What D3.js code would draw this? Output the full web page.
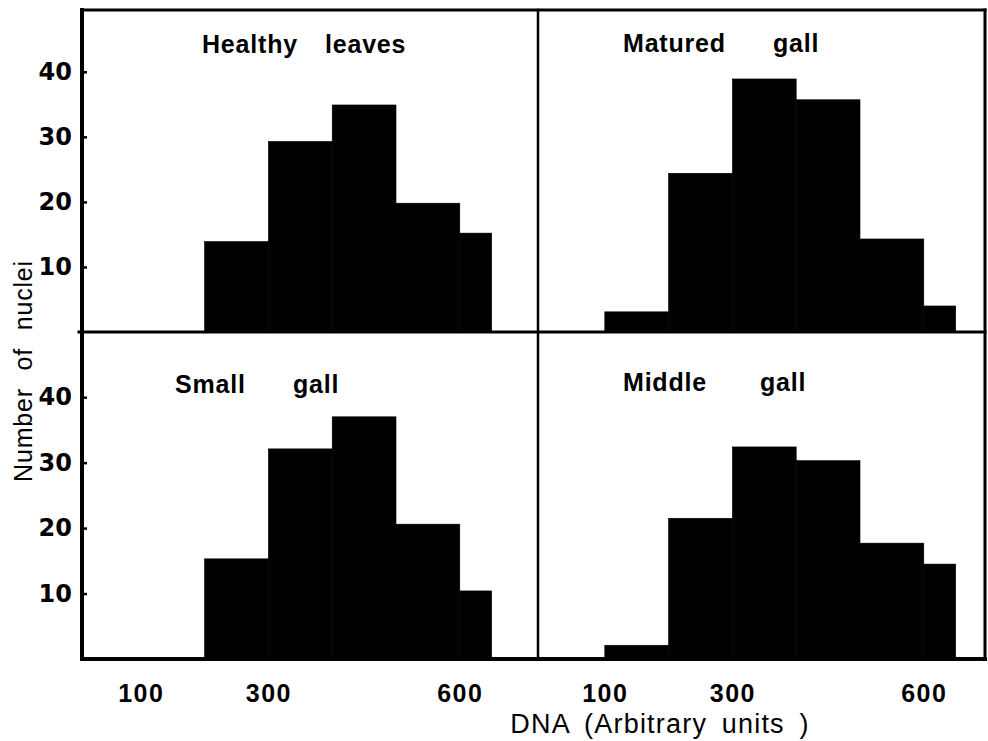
<!DOCTYPE html>
<html>
<head>
<meta charset="utf-8">
<script src="https://cdn.jsdelivr.net/npm/d3@7"></script>
<style>
  html, body { margin: 0; padding: 0; background: #fff; }
  svg { display: block; }
</style>
</head>
<body>
<svg id="chart" width="988" height="741"></svg>
<script>
// ---- data ----
const binEdges = [100, 200, 300, 400, 500, 600, 650];
const healthyLeaves = [0, 13.9, 29.3, 34.9, 19.8, 15.2];
const maturedGall   = [3.1, 24.4, 38.9, 35.7, 14.3, 4.0];
const smallGall     = [0, 15.3, 32.1, 37.0, 20.6, 10.4];
const middleGall    = [2.1, 21.5, 32.4, 30.3, 17.7, 14.5];
const panelTitles = [["Healthy", "leaves"], ["Matured", "gall"], ["Small", "gall"], ["Middle", "gall"]];
const yTickValues = [10, 20, 30, 40];
const xTickValues = [100, 300, 600];
const yLabelWords = ["Number", "of", "nuclei"];
const xLabelText = "DNA (Arbitrary units )";

// ---- layout ----
const svg = d3.select("#chart");
const L = 82, R = 985, T = 10, B = 659, MX = 538, MY = 332;
const ink = "#000";

const xLeft  = d3.scaleLinear().domain([0, 700]).range([77, 77 + 0.638 * 700]);
const xRight = d3.scaleLinear().domain([0, 700]).range([541, 541 + 0.638 * 700]);
const yTop    = d3.scaleLinear().domain([0, 49.5]).range([MY, T]);
const yBottom = d3.scaleLinear().domain([0, 49.5]).range([B, MY + 3]);

const panels = [
  { values: healthyLeaves, x: xLeft,  y: yTop,    title: panelTitles[0], tx: [202, 325], ty: 53 },
  { values: maturedGall,   x: xRight, y: yTop,    title: panelTitles[1], tx: [623, 773], ty: 52 },
  { values: smallGall,     x: xLeft,  y: yBottom, title: panelTitles[2], tx: [175, 293], ty: 393 },
  { values: middleGall,    x: xRight, y: yBottom, title: panelTitles[3], tx: [623, 760], ty: 391 }
];

panels.forEach(p => {
  const bins = p.values.map((v, i) => ({ x0: binEdges[i], x1: binEdges[i + 1], v }));
  const g = svg.append("g");
  g.selectAll("rect")
    .data(bins.filter(d => d.v > 0))
    .join("rect")
    .attr("x", d => p.x(d.x0))
    .attr("width", d => p.x(d.x1) - p.x(d.x0))
    .attr("y", d => p.y(d.v))
    .attr("height", d => p.y(0) - p.y(d.v))
    .attr("fill", ink)
    .attr("stroke", ink)
    .attr("stroke-width", 0.6);

  g.selectAll("text.title")
    .data(p.title)
    .join("text")
    .attr("class", "title")
    .attr("x", (d, i) => p.tx[i])
    .attr("y", p.ty)
    .attr("font-family", "Liberation Sans, Arial, sans-serif")
    .attr("font-size", 25)
    .attr("font-weight", "bold")
    .attr("letter-spacing", 0.8)
    .attr("fill", ink)
    .text(d => d);
});

// ---- y axes (left panels only) ----
[yTop, yBottom].forEach(ys => {
  const ax = svg.append("g")
    .attr("transform", `translate(${L},0)`)
    .call(d3.axisLeft(ys).tickValues(yTickValues).tickSizeInner(-5).tickSizeOuter(0).tickPadding(10));
  ax.select(".domain").remove();
  ax.selectAll(".tick line").attr("stroke", ink).attr("stroke-width", 2.5);
  ax.selectAll(".tick text")
    .attr("font-family", "DejaVu Sans, sans-serif")
    .attr("font-size", 24)
    .attr("font-weight", "bold")
    .attr("fill", ink);
});

// ---- x axes (bottom) ----
[xLeft, xRight].forEach(xs => {
  const ax = svg.append("g")
    .attr("transform", `translate(0,${B})`)
    .call(d3.axisBottom(xs).tickValues(xTickValues).tickSize(0).tickPadding(25));
  ax.select(".domain").remove();
  ax.selectAll(".tick text")
    .attr("font-family", "Liberation Sans, Arial, sans-serif")
    .attr("font-size", 25)
    .attr("font-weight", "bold")
    .attr("letter-spacing", 1.5)
    .attr("fill", ink);
});

// ---- frame ----
const frame = svg.append("g").attr("stroke", ink).attr("stroke-linecap", "square");
frame.append("line").attr("x1", L).attr("y1", T).attr("x2", L).attr("y2", B).attr("stroke-width", 4);
frame.append("line").attr("x1", L).attr("y1", B).attr("x2", R).attr("y2", B).attr("stroke-width", 4);
frame.append("line").attr("x1", L).attr("y1", T).attr("x2", R).attr("y2", T).attr("stroke-width", 3);
frame.append("line").attr("x1", R).attr("y1", T).attr("x2", R).attr("y2", B).attr("stroke-width", 3);
frame.append("line").attr("x1", MX).attr("y1", T).attr("x2", MX).attr("y2", B).attr("stroke-width", 2.5);
frame.append("line").attr("x1", L - 3).attr("y1", MY).attr("x2", R).attr("y2", MY).attr("stroke-width", 3);

// ---- axis titles ----
const yl = svg.append("text")
  .attr("transform", "translate(32,371) rotate(-90)")
  .attr("text-anchor", "middle")
  .attr("font-family", "Liberation Sans, Arial, sans-serif")
  .attr("font-size", 25)
  .attr("letter-spacing", 0.8)
  .attr("fill", ink);
yl.selectAll("tspan")
  .data(yLabelWords)
  .join("tspan")
  .attr("dx", (d, i) => i === 0 ? 0 : 10)
  .text((d, i) => (i === 0 ? "" : " ") + d);

svg.append("text")
  .attr("x", 660)
  .attr("y", 733)
  .attr("text-anchor", "middle")
  .attr("font-family", "Liberation Sans, Arial, sans-serif")
  .attr("font-size", 27)
  .attr("letter-spacing", 1.2)
  .attr("word-spacing", 6)
  .attr("fill", ink)
  .text(xLabelText);
</script>
</body>
</html>
